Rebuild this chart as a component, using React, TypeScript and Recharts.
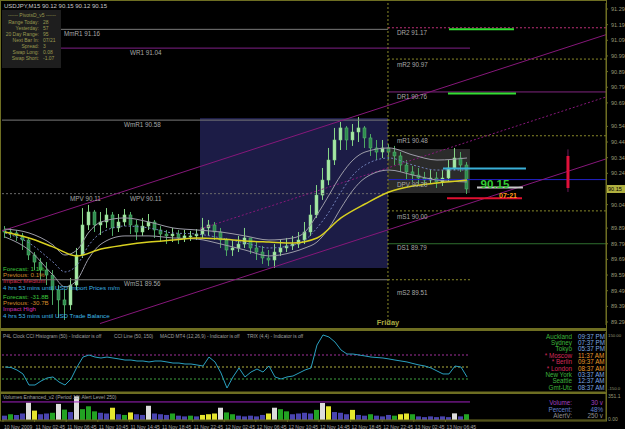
import React from 'react';
import { ComposedChart, Bar, Line, XAxis, YAxis, ReferenceLine, ReferenceArea, Cell } from 'recharts';

const FONT = '"Liberation Sans", Arial, sans-serif';
const OLIVE = '#6e6e22';
const DOT_OLIVE = '#8a8a2a';
const CHANNEL = '#86177a';

// USDJPY M15, grouped bars (index 0..77)
const closes = [
  89.865, 89.859, 89.84, 89.814, 89.718, 89.673, 89.622, 89.59, 89.495, 89.431,
  89.399, 89.526, 89.718, 89.91, 89.993, 89.91, 89.929, 89.974, 89.891, 89.929,
  89.974, 89.91, 89.865, 89.903, 89.929, 89.878, 89.852, 89.84, 89.852, 89.827,
  89.84, 89.84, 89.852, 89.891, 89.91, 89.865, 89.814, 89.75, 89.763, 89.788,
  89.827, 89.763, 89.737, 89.699, 89.686, 89.737, 89.763, 89.776, 89.788, 89.814,
  89.865, 89.974, 90.101, 90.197, 90.325, 90.453, 90.53, 90.453, 90.504, 90.53,
  90.466, 90.402, 90.376, 90.402, 90.376, 90.351, 90.293, 90.249, 90.229, 90.21,
  90.197, 90.21, 90.185, 90.21, 90.274, 90.338, 90.293, 90.14,
];
const highs = [
  89.903, 89.891, 89.878, 89.859, 89.827, 89.737, 89.699, 89.673, 89.622, 89.526,
  89.495, 89.571, 89.763, 90.018, 90.038, 90.006, 89.993, 90.018, 89.993, 89.98,
  90.012, 89.993, 89.942, 89.955, 89.98, 89.942, 89.903, 89.878, 89.891, 89.878,
  89.878, 89.872, 89.884, 89.955, 89.942, 89.929, 89.891, 89.827, 89.814, 89.84,
  89.891, 89.827, 89.801, 89.776, 89.75, 89.788, 89.814, 89.827, 89.84, 89.865,
  89.929, 90.038, 90.165, 90.274, 90.402, 90.53, 90.568, 90.542, 90.555, 90.6,
  90.542, 90.491, 90.453, 90.453, 90.427, 90.415, 90.376, 90.325, 90.287, 90.274,
  90.249, 90.261, 90.249, 90.261, 90.325, 90.402, 90.376, 90.312,
];
const lows = [
  89.827, 89.827, 89.808, 89.75, 89.686, 89.622, 89.558, 89.526, 89.399, 89.316,
  89.303, 89.367, 89.495, 89.699, 89.878, 89.865, 89.846, 89.891, 89.84, 89.865,
  89.903, 89.852, 89.814, 89.84, 89.878, 89.827, 89.801, 89.788, 89.801, 89.788,
  89.801, 89.808, 89.814, 89.827, 89.84, 89.814, 89.763, 89.712, 89.712, 89.737,
  89.763, 89.725, 89.686, 89.661, 89.648, 89.635, 89.712, 89.737, 89.75, 89.763,
  89.788, 89.84, 89.955, 90.07, 90.165, 90.293, 90.389, 90.389, 90.415, 90.44,
  90.402, 90.351, 90.325, 90.338, 90.325, 90.293, 90.249, 90.197, 90.185, 90.172,
  90.159, 90.172, 90.146, 90.159, 90.185, 90.261, 90.249, 90.108,
];
const firstOpen = 89.878;

// moving averages [bar index, price]
const slowMA = [
  [0, 89.865], [4, 89.827], [8, 89.77], [12, 89.712], [16, 89.757], [20, 89.782], [24, 89.801],
  [28, 89.814], [32, 89.827], [36, 89.82], [40, 89.808], [44, 89.801], [48, 89.795], [52, 89.827],
  [56, 89.955], [60, 90.044], [64, 90.121], [68, 90.159], [72, 90.178], [77, 90.197],
];
const bandUpper = [
  [0, 89.884], [4, 89.859], [8, 89.782], [10, 89.718], [12, 89.75], [14, 89.865], [16, 89.929],
  [20, 89.955], [24, 89.929], [28, 89.891], [32, 89.878], [36, 89.865], [40, 89.84], [44, 89.814],
  [48, 89.827], [50, 89.865], [52, 89.974], [54, 90.101], [56, 90.229], [58, 90.325], [60, 90.376],
  [64, 90.402], [68, 90.357], [72, 90.325], [77, 90.338],
];
const bandMid = [
  [0, 89.859], [4, 89.795], [8, 89.673], [10, 89.61], [12, 89.654], [14, 89.782], [16, 89.859],
  [20, 89.903], [24, 89.891], [28, 89.859], [32, 89.852], [36, 89.827], [40, 89.795], [44, 89.763],
  [48, 89.782], [50, 89.814], [52, 89.891], [54, 89.993], [56, 90.121], [58, 90.229], [60, 90.293],
  [64, 90.338], [68, 90.293], [72, 90.261], [77, 90.261],
];
const bandLower = [
  [0, 89.833], [4, 89.75], [8, 89.59], [10, 89.514], [12, 89.558], [14, 89.699], [16, 89.788],
  [20, 89.84], [24, 89.84], [28, 89.827], [32, 89.82], [36, 89.788], [40, 89.75], [44, 89.712],
  [48, 89.737], [50, 89.763], [52, 89.801], [54, 89.891], [56, 90.018], [58, 90.133], [60, 90.21],
  [64, 90.261], [68, 90.229], [72, 90.197], [77, 90.185],
];

const cci = [
  0, -4, -25, -58, -150, -150, -117, -92, -83, -125,
  -150, -100, 0, 83, 100, 83, 75, 83, 75, 67,
  58, 58, 50, 50, 42, 50, 50, 42, 33, 33,
  25, 25, 17, 8, 83, 42, -50, -175, -83, -8,
  -83, -42, -17, -42, 8, -83, -100, -83, -75, -50,
  -25, -8, 183, 267, 250, 208, 142, 108, 108, 100,
  92, 83, 79, 75, 67, 58, 50, 42, 29, 17,
  8, -8, -33, -58, -58, 8, 0, -83,
];

const volumes = [
  60, 80, 70, 90, 240, 130, 80, 90, 100, 223,
  144, 110, 328, 150, 190, 120, 100, 90, 170, 80,
  70, 105, 80, 70, 197, 90, 80, 70, 90, 60,
  50, 60, 50, 70, 80, 90, 170, 105, 80, 60,
  50, 60, 50, 70, 90, 170, 150, 120, 80, 90,
  100, 90, 140, 236, 190, 110, 100, 80, 140, 70,
  60, 80, 60, 50, 70, 60, 80, 90, 80, 50,
  40, 50, 40, 50, 40, 92, 50, 80,
];
const volumeKinds = 'bgbbwybbgwgbwgggbbybgybbwbbbgbbgbyyywggbbbbbywggbbbbgwybbbybbgbbbgyygbbbbbbwbg';
const volumeColors: Record<string, string> = { b: '#4a44b0', g: '#22a322', y: '#e6e62e', w: '#dcdcdc' };

const priceTicks = [91.29, 91.19, 91.09, 90.99, 90.89, 90.79, 90.69, 90.54, 90.44, 90.34, 90.24, 90.04, 89.89, 89.79, 89.69, 89.59, 89.49, 89.39, 89.29];
const dateTickPos = [-0.33, 4.93, 10.2, 15.47, 20.73, 26, 31.27, 36.53, 41.8, 47.07, 52.33, 57.6, 62.87, 68.13, 73.4];
const dateLabels = ['10 Nov 2009', '11 Nov 02:45', '11 Nov 06:45', '11 Nov 10:45', '11 Nov 14:45', '11 Nov 18:45', '11 Nov 22:45', '12 Nov 02:45', '12 Nov 06:45', '12 Nov 10:45', '12 Nov 14:45', '12 Nov 18:45', '12 Nov 22:45', '13 Nov 02:45', '13 Nov 06:45'];

// pivot levels: [key, price, from idx, to idx, color, dash]
const pivotLines: [string, number, number, number, string, string | undefined][] = [
  ['MmR1', 91.16, -0.5, 63.83, '#7a7a7a', undefined],
  ['WR1', 91.04, -0.5, 77.5, '#7f1f86', undefined],
  ['WmR1', 90.58, -0.5, 63.83, '#7a7a7a', undefined],
  ['WmR1b', 90.58, 63.83, 77.5, DOT_OLIVE, '2 2'],
  ['MPV', 90.11, -0.5, 63.83, '#6a6a6a', '2 2'],
  ['WmS1', 89.56, -0.5, 63.83, '#7a7a7a', undefined],
  ['WmS1b', 89.56, 63.83, 77.5, DOT_OLIVE, '2 2'],
  ['DR2', 91.17, 63.83, 100.17, '#c0307a', '2 2'],
  ['mR2', 90.97, 63.83, 100.17, DOT_OLIVE, '2 2'],
  ['DR1', 90.76, 63.83, 100.17, '#80267f', undefined],
  ['mR1', 90.48, 63.83, 100.17, DOT_OLIVE, '2 2'],
  ['DPV', 90.2, 63.83, 100.17, '#2222c8', undefined],
  ['mS1', 90.0, 63.83, 100.17, DOT_OLIVE, '2 2'],
  ['DS1', 89.79, 63.83, 100.17, '#2f6f2f', undefined],
];

const pivotLabels: [string, number, number][] = [
  ['MmR1   91.16', 64, 35.5], ['WR1   91.04', 130, 54.5], ['WmR1   90.58', 124, 126.5],
  ['MPV   90.11', 70, 200.5], ['WPV   90.11', 130, 200.5], ['WmS1   89.56', 124, 285.5],
  ['DR2   91.17', 397, 34.5], ['mR2   90.97', 397, 66.5], ['DR1   90.76', 397, 98.5],
  ['mR1   90.48', 397, 142.5], ['DPV   90.20', 397, 186.5], ['mS1   90.00', 397, 218.5],
  ['DS1   89.79', 397, 249.5], ['mS2   89.51', 397, 294.5],
];

const newsLines: [string, string, number][] = [
  ['Forecast: 1.1%', '#3cc83c', 270.5], ['Previous: 0.1%', '#d08a2a', 277],
  ['Impact Medium', '#d83050', 283], ['4 hrs 53 mins until USD Import Prices m/m', '#3cb4e6', 290],
  ['Forecast: -31.8B', '#3cc83c', 299], ['Previous: -30.7B', '#d08a2a', 305],
  ['Impact High', '#d030b0', 310.5], ['4 hrs 53 mins until USD Trade Balance', '#3cb4e6', 318],
];

const clockRows: [string, string, boolean][] = [
  ['Auckland', '09:37  PM', false], ['Sydney', '07:37  PM', false], ['Tokyo', '05:37  PM', false],
  ['* Moscow', '11:37  AM', true], ['* Berlin', '09:37  AM', true], ['* London', '08:37  AM', true],
  ['New York', '03:37  AM', false], ['Seattle', '12:37  AM', false], ['Gmt-Utc', '08:37  AM', false],
];

const infoRows: [string, string][] = [
  ['Range Today:', '28'], ['Yesterday:', '57'], ['20 Day Range:', '95'], ['Next Bar In:', '07/21'],
  ['Spread:', '3'], ['Swap Long:', '0.08'], ['Swap Short:', '-1.07'],
];

const candles = closes.map((c, i) => ({
  x: i,
  open: i === 0 ? firstOpen : closes[i - 1],
  close: c,
  high: highs[i],
  low: lows[i],
  range: [lows[i], highs[i]],
}));
const toPts = (arr: number[][]) => arr.map(([x, v]) => ({ x, v }));
const cciData = cci.map((v, i) => ({ x: i, v }));
const volData = volumes.map((v, i) => ({ x: i, v, kind: volumeKinds[i] }));

const Candle = (props: any) => {
  const { x, y, width, height, payload } = props;
  if (!payload) return null;
  const { open, close, high, low } = payload;
  const top = Math.min(y, y + height);
  const h = Math.abs(height);
  const k = h / (high - low || 1);
  const py = (p: number) => top + (high - p) * k;
  const up = close >= open;
  const bodyTop = py(Math.max(open, close));
  const bodyH = Math.max(1, Math.abs(py(open) - py(close)));
  const cx = x + width / 2;
  return (
    <g>
      <line x1={cx} x2={cx} y1={top} y2={top + h} stroke={up ? '#88d888' : '#4faa66'} strokeWidth={1} />
      <rect x={x} y={bodyTop} width={width} height={bodyH} fill={up ? '#a6e6a6' : '#2e8b4e'} stroke={up ? '#88d888' : '#5cbc74'} strokeWidth={0.5} />
    </g>
  );
};

const PriceTick = (props: any) => {
  const { x, y, payload } = props;
  return (
    <text x={x + 1} y={y + 2} fontSize={5.5} fill="#9a9a78" fontFamily={FONT}>
      {payload.value.toFixed(2)}
    </text>
  );
};

const DateTick = (props: any) => {
  const { x, y, index } = props;
  return (
    <text x={x + 1} y={y + 5} fontSize={5} fill="#a8a8a8" fontFamily={FONT}>
      {dateLabels[index]}
    </text>
  );
};

const seg = (x1: number, y1: number, x2: number, y2: number) => [{ x: x1, y: y1 }, { x: x2, y: y2 }];

export default function App() {
  return (
    <div style={{ position: 'fixed', left: 0, top: 0, width: 625, height: 429, background: '#000', overflow: 'hidden' }}>
      <div style={{ position: 'absolute', left: 0, top: 0 }}>
        <ComposedChart width={625} height={328} data={candles} margin={{ top: 3, right: 0, bottom: 3, left: 2 }}>
          <XAxis dataKey="x" type="number" domain={[-0.5, 100.17]} allowDataOverflow hide />
          <YAxis
            orientation="right"
            width={19}
            domain={[89.2708, 91.3283]}
            allowDataOverflow
            ticks={priceTicks}
            interval={0}
            tick={<PriceTick />}
            tickSize={2}
            tickLine={{ stroke: OLIVE }}
            axisLine={{ stroke: OLIVE }}
          />
          <ReferenceArea x1={32.5} x2={63.83} y1={89.635} y2={90.594} fill="#1c1c46" fillOpacity={1} stroke="none" />
          <ReferenceArea x1={63.83} x2={77.5} y1={90.114} y2={90.395} fill="#3a3a3a" fillOpacity={0.75} stroke="none" />
          {pivotLines.map(([name, p, a, b, color, dash]) => (
            <ReferenceLine key={name} segment={seg(a, p, b, p)} stroke={color} strokeDasharray={dash} ifOverflow="hidden" />
          ))}
          <ReferenceLine x={63.83} stroke={DOT_OLIVE} strokeDasharray="2 2" />
          {/* regression channel */}
          <ReferenceLine segment={seg(-0.5, 89.872, 100.17, 91.126)} stroke={CHANNEL} ifOverflow="hidden" />
          <ReferenceLine segment={seg(32.5, 89.884, 100.17, 90.728)} stroke={CHANNEL} strokeDasharray="2 2" ifOverflow="hidden" />
          <ReferenceLine segment={seg(15.83, 89.28, 100.17, 90.332)} stroke={CHANNEL} ifOverflow="hidden" />
          <Line data={toPts(bandUpper)} dataKey="v" type="monotone" stroke="#9c9ca8" strokeWidth={1} dot={false} isAnimationActive={false} />
          <Line data={toPts(bandMid)} dataKey="v" type="monotone" stroke="#7080b8" strokeWidth={1} strokeDasharray="2 2" dot={false} isAnimationActive={false} />
          <Line data={toPts(bandLower)} dataKey="v" type="monotone" stroke="#9c9ca8" strokeWidth={1} dot={false} isAnimationActive={false} />
          <Line data={toPts(slowMA)} dataKey="v" type="monotone" stroke="#d8d020" strokeWidth={1.5} dot={false} isAnimationActive={false} />
          <Bar dataKey="range" barSize={3} shape={<Candle />} isAnimationActive={false} />
          {/* right-hand markers */}
          <ReferenceLine segment={seg(74, 91.16, 84.83, 91.16)} stroke="#33dd33" strokeWidth={2} />
          <ReferenceLine segment={seg(73.83, 90.75, 85.17, 90.75)} stroke="#33dd33" strokeWidth={2} />
          <ReferenceLine segment={seg(73, 90.27, 86.83, 90.27)} stroke="#3ab0d8" strokeWidth={2} />
          <ReferenceLine segment={seg(78.67, 90.15, 86.33, 90.15)} stroke="#c8c8c8" strokeWidth={2} />
          <ReferenceLine segment={seg(73.67, 90.08, 86.17, 90.08)} stroke="#e01030" strokeWidth={2} />
          <ReferenceLine segment={seg(93.83, 90.393, 93.83, 90.121)} stroke="#6a1a5a" strokeWidth={1} />
          <ReferenceLine segment={seg(93.83, 90.351, 93.83, 90.146)} stroke="#e0103a" strokeWidth={3} />
        </ComposedChart>
      </div>

      <div style={{ position: 'absolute', left: 0, top: 332 }}>
        <ComposedChart width={625} height={59} data={cciData} margin={{ top: 0, right: 0, bottom: 0, left: 2 }}>
          <XAxis dataKey="x" type="number" domain={[-0.5, 100.17]} allowDataOverflow hide />
          <YAxis orientation="right" width={19} domain={[-200, 291.7]} allowDataOverflow tick={false} tickLine={false} axisLine={{ stroke: OLIVE }} />
          <ReferenceLine segment={seg(-0.5, 100, 77.5, 100)} stroke="#a0309a" strokeDasharray="2 2" />
          <ReferenceLine segment={seg(-0.5, 0, 77.5, 0)} stroke="#b0b040" strokeDasharray="2 2" />
          <ReferenceLine segment={seg(-0.5, -100, 77.5, -100)} stroke="#40a040" strokeDasharray="2 2" />
          <Line dataKey="v" type="linear" stroke="#2aa0c0" strokeWidth={1} dot={false} isAnimationActive={false} />
        </ComposedChart>
      </div>

      <div style={{ position: 'absolute', left: 0, top: 394 }}>
        <ComposedChart width={625} height={35} data={volData} margin={{ top: 0, right: 0, bottom: 0, left: 2 }}>
          <XAxis
            dataKey="x"
            type="number"
            domain={[-0.5, 100.17]}
            allowDataOverflow
            ticks={dateTickPos}
            interval={0}
            height={9}
            tick={<DateTick />}
            tickSize={2}
            tickLine={{ stroke: OLIVE }}
            axisLine={{ stroke: OLIVE }}
          />
          <YAxis orientation="right" width={19} domain={[0, 360]} allowDataOverflow tick={false} tickLine={false} axisLine={{ stroke: OLIVE }} />
          <ReferenceLine segment={seg(-0.5, 250, 77.5, 250)} stroke="#a020c0" />
          <Bar dataKey="v" barSize={5} isAnimationActive={false}>
            {volData.map((d) => (
              <Cell key={d.x} fill={volumeColors[d.kind]} />
            ))}
          </Bar>
        </ComposedChart>
      </div>

      <svg width={625} height={429} style={{ position: 'absolute', left: 0, top: 0, pointerEvents: 'none' }} fontFamily={FONT}>
        {/* window frames */}
        <rect x={0.5} y={0.5} width={606} height={420.5} fill="none" stroke={OLIVE} />
        <rect x={0} y={328} width={607} height={3} fill={OLIVE} />
        <rect x={0} y={391.5} width={607} height={2.5} fill={OLIVE} />

        <text x={4} y={8} fontSize={6} fill="#c8c8c8">USDJPY,M15  90.12 90.15 90.12 90.15</text>

        <rect x={2} y={10} width={59} height={58} fill="#1e1e1e" />
        <text x={32} y={17} fontSize={5} fill="#9a9a50" textAnchor="middle">------ PivotsD_v5 ------</text>
        {infoRows.map(([k, v], i) => (
          <g key={k}>
            <text x={39} y={23.5 + i * 6.1} fontSize={5} fill="#9a9a50" textAnchor="end">{k}</text>
            <text x={43} y={23.5 + i * 6.1} fontSize={5} fill="#9a9a50">{v}</text>
          </g>
        ))}

        {pivotLabels.map(([t, x, y]) => (
          <text key={t} x={x} y={y} fontSize={6.3} fill="#a8a8a8">{t}</text>
        ))}

        {newsLines.map(([t, c, y]) => (
          <text key={t} x={3} y={y} fontSize={6.2} fill={c}>{t}</text>
        ))}

        <text x={388} y={325} fontSize={7.5} fontWeight="bold" fill="#a8a840" textAnchor="middle">Friday</text>

        <text x={495} y={188} fontSize={11.5} fontWeight="bold" fill="#33cc33" textAnchor="middle">90.15</text>
        <text x={508} y={197.5} fontSize={7} fontWeight="bold" fill="#ff9a1a" textAnchor="middle">07:21</text>

        <rect x={607} y={185} width={18} height={8} fill="#b0b040" />
        <text x={608} y={191} fontSize={5.5} fill="#000">90.15</text>

        <text x={3} y={338} fontSize={4.8} fill="#a0a0a0">P4L Clock</text>
        <text x={26} y={338} fontSize={4.8} fill="#a0a0a0">CCI Histogram (50) - Indicator is off</text>
        <text x={114} y={338} fontSize={4.8} fill="#a0a0a0">CCI Line (50, 150)</text>
        <text x={160} y={338} fontSize={4.8} fill="#a0a0a0">MACD MT4 (12,26,9) - Indicator is off</text>
        <text x={247} y={338} fontSize={4.8} fill="#a0a0a0">TRIX (4,4) - Indicator is off</text>
        <text x={608} y={337} fontSize={4.3} fill="#9a9a78">150.00</text>
        <text x={608} y={390} fontSize={4.3} fill="#9a9a78">-150.0</text>

        {clockRows.map(([city, time, warn], i) => (
          <g key={city}>
            <text x={572} y={338.5 + i * 6.4} fontSize={6.3} fill={warn ? '#d42a5a' : '#3cb43c'} textAnchor="end">{city}</text>
            <text x={578} y={338.5 + i * 6.4} fontSize={6.3} fill={warn ? '#e89a2a' : '#7aa6e0'}>{time}</text>
          </g>
        ))}

        <text x={3} y={399} fontSize={5} fill="#a0a0a0">Volumes Enhanced_v2  (Period 10)  Alert Level 250)</text>
        <text x={572} y={405} fontSize={6.3} fill="#a040c0" textAnchor="end">Volume:</text>
        <text x={603} y={405} fontSize={6.3} fill="#a040c0" textAnchor="end">30 v</text>
        <text x={572} y={411.5} fontSize={6.3} fill="#6080d0" textAnchor="end">Percent:</text>
        <text x={603} y={411.5} fontSize={6.3} fill="#6080d0" textAnchor="end">48%</text>
        <text x={572} y={418} fontSize={6.3} fill="#909090" textAnchor="end">AlertV:</text>
        <text x={603} y={418} fontSize={6.3} fill="#909090" textAnchor="end">250 v</text>
        <text x={608} y={398} fontSize={5} fill="#9a9a78">351.1</text>
        <text x={608} y={421} fontSize={5} fill="#9a9a78">0.00</text>
      </svg>
    </div>
  );
}
